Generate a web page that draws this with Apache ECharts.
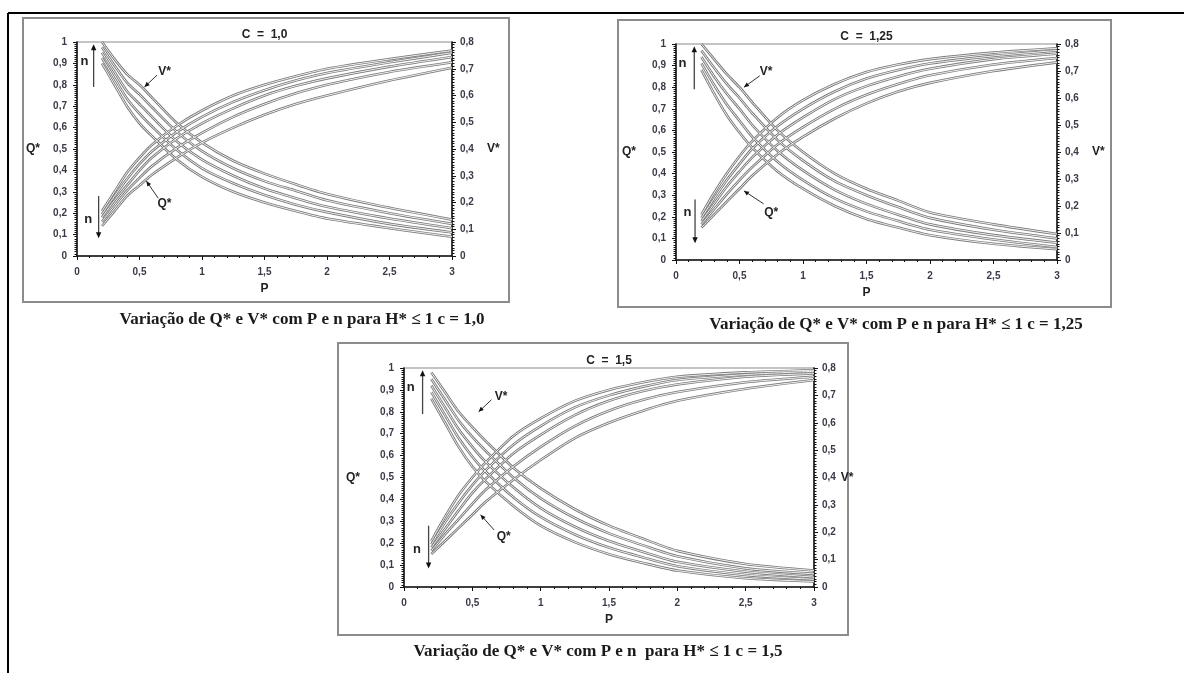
<!DOCTYPE html>
<html><head><meta charset="utf-8">
<script src="https://cdn.jsdelivr.net/npm/echarts@6/dist/echarts.min.js"></script>
<style>html,body{margin:0;padding:0;background:#fff}#c{width:1184px;height:673px}</style>
</head><body><div id="c"></div>
<script>
// ---------------- DATA ----------------
const P = [0.2, 0.3, 0.4, 0.5, 0.6, 0.8, 1.0, 1.25, 1.5, 1.75, 2.0, 2.5, 3.0];

const chartTitles = ['C  =  1,0', 'C  =  1,25', 'C  =  1,5'];
const captions = [
  'Variação de Q* e V* com P e n para H* ≤ 1 c = 1,0',
  'Variação de Q* e V* com P e n para H* ≤ 1 c = 1,25',
  'Variação de Q* e V* com P e n  para H* ≤ 1 c = 1,5'
];
const xTickLabels = ['0', '0,5', '1', '1,5', '2', '2,5', '3'];
const qTickLabels = ['0', '0,1', '0,2', '0,3', '0,4', '0,5', '0,6', '0,7', '0,8', '0,9', '1'];
const vTickLabels = ['0', '0,1', '0,2', '0,3', '0,4', '0,5', '0,6', '0,7', '0,8'];

// V* (right axis), five n-curves each
const V_C10 = [
  [0.80, 0.736, 0.68, 0.64, 0.592, 0.496, 0.424, 0.356, 0.308, 0.268, 0.232, 0.18, 0.136],
  [0.78, 0.712, 0.648, 0.604, 0.556, 0.464, 0.392, 0.328, 0.28, 0.244, 0.208, 0.16, 0.12],
  [0.76, 0.688, 0.616, 0.568, 0.52, 0.428, 0.36, 0.30, 0.252, 0.216, 0.184, 0.14, 0.104],
  [0.74, 0.664, 0.588, 0.532, 0.484, 0.396, 0.328, 0.272, 0.228, 0.192, 0.164, 0.12, 0.088],
  [0.72, 0.64, 0.56, 0.496, 0.448, 0.36, 0.296, 0.24, 0.20, 0.168, 0.14, 0.104, 0.072]
];
const Q_C10 = [
  [0.21, 0.30, 0.39, 0.46, 0.52, 0.61, 0.68, 0.75, 0.80, 0.84, 0.875, 0.92, 0.96],
  [0.195, 0.28, 0.36, 0.43, 0.49, 0.58, 0.65, 0.72, 0.775, 0.82, 0.855, 0.905, 0.95],
  [0.18, 0.26, 0.33, 0.40, 0.46, 0.55, 0.62, 0.69, 0.75, 0.795, 0.83, 0.885, 0.93],
  [0.16, 0.235, 0.305, 0.365, 0.42, 0.505, 0.575, 0.65, 0.71, 0.76, 0.80, 0.86, 0.905],
  [0.14, 0.21, 0.28, 0.33, 0.38, 0.46, 0.53, 0.60, 0.66, 0.71, 0.75, 0.82, 0.88]
];
const V_C125 = [
  [0.80, 0.744, 0.688, 0.64, 0.584, 0.48, 0.40, 0.32, 0.264, 0.22, 0.176, 0.132, 0.096],
  [0.776, 0.712, 0.652, 0.60, 0.544, 0.444, 0.368, 0.292, 0.24, 0.196, 0.156, 0.112, 0.08],
  [0.752, 0.68, 0.616, 0.56, 0.50, 0.404, 0.332, 0.26, 0.208, 0.168, 0.132, 0.092, 0.064],
  [0.728, 0.648, 0.576, 0.516, 0.456, 0.364, 0.296, 0.228, 0.18, 0.144, 0.112, 0.076, 0.048],
  [0.704, 0.616, 0.536, 0.472, 0.416, 0.328, 0.264, 0.20, 0.152, 0.12, 0.092, 0.06, 0.04]
];
const Q_C125 = [
  [0.21, 0.31, 0.40, 0.48, 0.55, 0.66, 0.74, 0.815, 0.87, 0.905, 0.93, 0.96, 0.98],
  [0.195, 0.285, 0.37, 0.445, 0.515, 0.62, 0.70, 0.78, 0.84, 0.88, 0.91, 0.945, 0.97],
  [0.18, 0.26, 0.34, 0.41, 0.475, 0.58, 0.66, 0.745, 0.805, 0.85, 0.885, 0.93, 0.955],
  [0.165, 0.235, 0.305, 0.37, 0.43, 0.535, 0.615, 0.70, 0.765, 0.815, 0.855, 0.905, 0.935],
  [0.15, 0.21, 0.27, 0.33, 0.39, 0.49, 0.57, 0.655, 0.725, 0.78, 0.82, 0.875, 0.915]
];
const V_C15 = [
  [0.784, 0.712, 0.64, 0.584, 0.532, 0.436, 0.36, 0.284, 0.224, 0.176, 0.132, 0.084, 0.06],
  [0.76, 0.684, 0.608, 0.548, 0.496, 0.40, 0.324, 0.252, 0.196, 0.152, 0.112, 0.068, 0.048],
  [0.736, 0.656, 0.576, 0.512, 0.456, 0.364, 0.288, 0.22, 0.168, 0.128, 0.092, 0.056, 0.036],
  [0.712, 0.628, 0.544, 0.476, 0.42, 0.328, 0.256, 0.192, 0.144, 0.108, 0.076, 0.044, 0.028],
  [0.688, 0.60, 0.512, 0.44, 0.384, 0.296, 0.224, 0.164, 0.12, 0.088, 0.06, 0.032, 0.02]
];
const Q_C15 = [
  [0.21, 0.32, 0.42, 0.50, 0.57, 0.69, 0.77, 0.85, 0.90, 0.935, 0.96, 0.98, 0.99],
  [0.195, 0.295, 0.385, 0.465, 0.535, 0.65, 0.735, 0.82, 0.875, 0.915, 0.945, 0.97, 0.985],
  [0.18, 0.265, 0.35, 0.43, 0.495, 0.61, 0.695, 0.785, 0.85, 0.895, 0.925, 0.96, 0.975],
  [0.165, 0.24, 0.31, 0.38, 0.445, 0.55, 0.64, 0.735, 0.805, 0.855, 0.89, 0.935, 0.96],
  [0.15, 0.21, 0.27, 0.33, 0.39, 0.49, 0.58, 0.68, 0.75, 0.805, 0.85, 0.905, 0.945]
];

// ---------------- LAYOUT ----------------
const panels = [
  {grid:{left:77, top:42, width:375, height:214}, box:[23,18,486,284], cap:[302,320], qGap:37, vGap:35,
   ann:{up:[0.133,0.79,0.99], down:[0.173,0.28,0.083], nUp:[0.06,0.91], nDown:[0.09,0.17],
        vLab:[0.70,0.86], vLine:[0.64,0.845,0.54,0.79], qLab:[0.70,0.245], qLine:[0.65,0.27,0.555,0.35]}},
  {grid:{left:676, top:44, width:381, height:216}, box:[618,20,493,287], cap:[896,325], qGap:40, vGap:35,
   ann:{up:[0.144,0.79,0.99], down:[0.15,0.28,0.077], nUp:[0.05,0.91], nDown:[0.09,0.22],
        vLab:[0.71,0.87], vLine:[0.66,0.853,0.535,0.80], qLab:[0.75,0.22], qLine:[0.69,0.26,0.535,0.32]}},
  {grid:{left:404, top:368, width:410, height:219}, box:[338,343,510,292], cap:[598,652], qGap:44, vGap:26,
   ann:{up:[0.136,0.79,0.99], down:[0.18,0.28,0.084], nUp:[0.05,0.91], nDown:[0.094,0.17],
        vLab:[0.71,0.87], vLine:[0.64,0.855,0.546,0.80], qLab:[0.73,0.23], qLine:[0.66,0.26,0.56,0.33]}}
];
const dataSets = [[V_C10, Q_C10], [V_C125, Q_C125], [V_C15, Q_C15]];

const labelFont = {fontFamily:'Liberation Sans, Arial, sans-serif', fontSize:10, fontWeight:'bold', color:'#3a3a48'};
const nameFont = {fontFamily:'Liberation Sans, Arial, sans-serif', fontSize:12, fontWeight:'bold', color:'#222'};

const grids = [], xAxes = [], yAxes = [], series = [];
panels.forEach((p, gi) => {
  grids.push(Object.assign({show:true, borderColor:'#c4c4c4', borderWidth:2, backgroundColor:'transparent'}, p.grid));
  xAxes.push({type:'value', gridIndex:gi, min:0, max:3, interval:0.5,
    name:'P', nameLocation:'middle', nameGap:27, nameTextStyle:nameFont,
    axisLine:{lineStyle:{color:'#111', width:1.5}},
    axisTick:{show:true, length:4, lineStyle:{color:'#111'}},
    minorTick:{show:true, splitNumber:5, length:2, lineStyle:{color:'#111'}},
    splitLine:{show:false},
    axisLabel:Object.assign({margin:11, formatter:v => xTickLabels[Math.round(v/0.5)]}, labelFont)});
  yAxes.push({type:'value', gridIndex:gi, position:'left', min:0, max:1, interval:0.1,
    name:'Q*', nameLocation:'middle', nameRotate:0, nameGap:p.qGap, nameTextStyle:nameFont,
    axisLine:{show:true, lineStyle:{color:'#111', width:1.5}},
    axisTick:{show:true, length:4, lineStyle:{color:'#111'}},
    minorTick:{show:true, splitNumber:10, length:2.5, lineStyle:{color:'#111'}},
    splitLine:{show:false},
    axisLabel:Object.assign({margin:10, formatter:v => qTickLabels[Math.round(v*10)]}, labelFont)});
  yAxes.push({type:'value', gridIndex:gi, position:'right', min:0, max:0.8, interval:0.1,
    name:'V*', nameLocation:'middle', nameRotate:0, nameGap:p.vGap, nameTextStyle:nameFont,
    axisLine:{show:true, lineStyle:{color:'#111', width:1.5}},
    axisTick:{show:true, length:4, lineStyle:{color:'#111'}},
    minorTick:{show:true, splitNumber:10, length:2.5, lineStyle:{color:'#111'}},
    splitLine:{show:false},
    axisLabel:Object.assign({margin:8, formatter:v => vTickLabels[Math.round(v*10)]}, labelFont)});
  const [vs, qs] = dataSets[gi];
  const curves = vs.map(d => ({d, y:2*gi+1, name:'V*'})).concat(qs.map(d => ({d, y:2*gi, name:'Q*'})));
  [['#7a7a7a', 2.6, 2], ['#ffffff', 0.9, 3]].forEach(([col, w, z]) => {
    curves.forEach(c => series.push({type:'line', name:c.name, xAxisIndex:gi, yAxisIndex:c.y,
      data:P.map((x, i) => [x, c.d[i]]), smooth:0.25, symbol:'none',
      lineStyle:{color:col, width:w, join:'round'}, z:z, silent:true, animation:false}));
  });
});

const chart = echarts.init(document.getElementById('c'), null, {renderer:'canvas'});
chart.setOption({backgroundColor:'#fff', animation:false, grid:grids, xAxis:xAxes, yAxis:yAxes, series:series});

// ---------------- ANNOTATIONS ----------------
const g = [];
g.push({type:'line', shape:{x1:8, y1:13, x2:1184, y2:13}, style:{stroke:'#000', lineWidth:2}});
g.push({type:'line', shape:{x1:8, y1:13, x2:8, y2:673}, style:{stroke:'#000', lineWidth:2}});
function tri(tip, from, s) {
  const dx = tip[0]-from[0], dy = tip[1]-from[1], L = Math.hypot(dx, dy), ux = dx/L, uy = dy/L;
  const bx = tip[0]-ux*s, by = tip[1]-uy*s;
  return {type:'polygon', shape:{points:[tip, [bx-uy*s*0.45, by+ux*s*0.45], [bx+uy*s*0.45, by-ux*s*0.45]]}, style:{fill:'#111'}};
}
function txt(x, y, t, font, align, fill) {
  return {type:'text', x:x, y:y, style:{text:t, font:font, textAlign:align||'center', align:align||'center',
    textVerticalAlign:'middle', verticalAlign:'middle', fill:fill||'#222'}};
}
panels.forEach((p, gi) => {
  const px = (x, y) => chart.convertToPixel({xAxisIndex:gi, yAxisIndex:2*gi}, [x, y]);
  const b = p.box;
  g.push({type:'rect', shape:{x:b[0], y:b[1], width:b[2], height:b[3]}, style:{fill:'none', stroke:'#8c8c8c', lineWidth:2}});
  const a = p.ann;
  const tl = px(1.5, 1);
  g.push(txt(tl[0], tl[1]-7, chartTitles[gi], 'bold 12px "Liberation Sans", Arial, sans-serif'));
  const u0 = px(a.up[0], a.up[1]), u1 = px(a.up[0], a.up[2]);
  g.push({type:'line', shape:{x1:u0[0], y1:u0[1], x2:u1[0], y2:u1[1]+4}, style:{stroke:'#444', lineWidth:1.3}});
  g.push(tri(u1, u0, 6));
  const d0 = px(a.down[0], a.down[1]), d1 = px(a.down[0], a.down[2]);
  g.push({type:'line', shape:{x1:d0[0], y1:d0[1], x2:d1[0], y2:d1[1]-4}, style:{stroke:'#444', lineWidth:1.3}});
  g.push(tri(d1, d0, 6));
  const nU = px(a.nUp[0], a.nUp[1]), nD = px(a.nDown[0], a.nDown[1]);
  g.push(txt(nU[0], nU[1], 'n', 'bold 13px "Liberation Sans", Arial, sans-serif'));
  g.push(txt(nD[0], nD[1], 'n', 'bold 13px "Liberation Sans", Arial, sans-serif'));
  [[a.vLab, a.vLine, 'V*'], [a.qLab, a.qLine, 'Q*']].forEach(([lab, ln, t]) => {
    const s = px(ln[0], ln[1]), e = px(ln[2], ln[3]);
    g.push({type:'line', shape:{x1:s[0], y1:s[1], x2:e[0], y2:e[1]}, style:{stroke:'#333', lineWidth:1}});
    g.push(tri(e, s, 5));
    const lp = px(lab[0], lab[1]);
    g.push(txt(lp[0], lp[1], t, 'bold 12px "Liberation Sans", Arial, sans-serif'));
  });
  g.push(txt(p.cap[0], p.cap[1], captions[gi], 'bold 17px "Liberation Serif", "Times New Roman", serif', 'center', '#1a1a1a'));
});
chart.setOption({graphic:{elements:g}});
</script></body></html>
